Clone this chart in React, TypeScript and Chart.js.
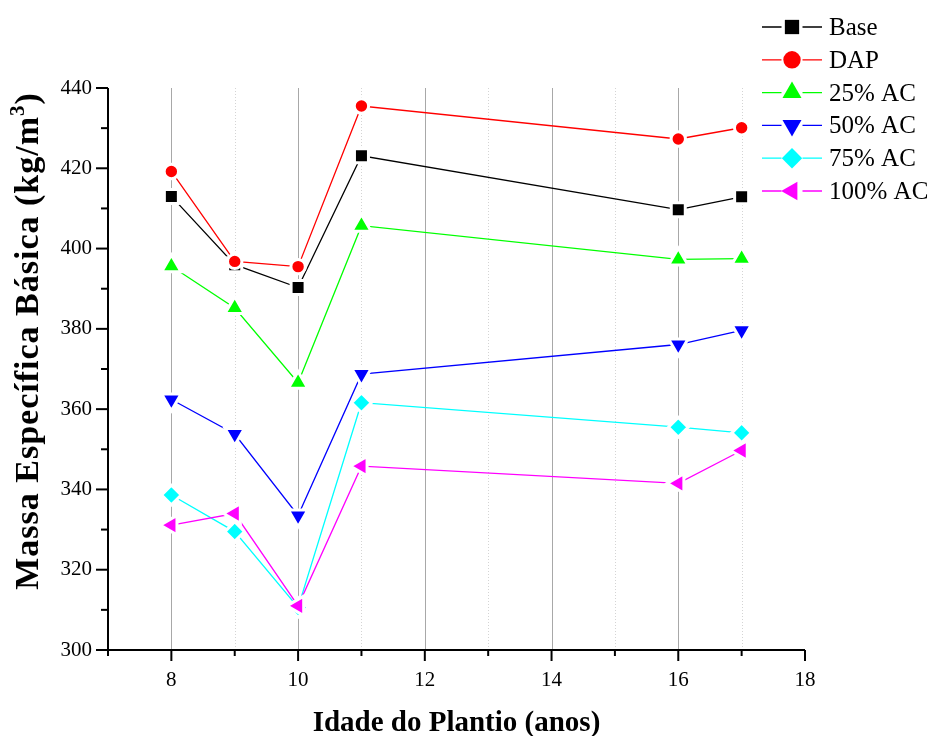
import React, { useEffect, useRef } from 'react';
import { Chart, registerables } from 'chart.js';
import { drawPoint } from 'chart.js/helpers';
Chart.register(...registerables);

// ---- data ----
const AGES = [8, 9, 10, 11, 16, 17];
const BASE = [413.0, 396.0, 390.3, 423.1, 409.7, 412.9];
const DAP = [419.2, 396.8, 395.5, 435.5, 427.3, 430.1];
const AC25 = [395.6, 385.2, 366.6, 405.7, 397.3, 397.5];
const AC50 = [362.4, 353.8, 333.5, 368.7, 376.1, 379.6];
const AC75 = [338.6, 329.5, 310.6, 361.6, 355.5, 354.1];
const AC100 = [331.1, 334.0, 311.0, 345.8, 341.5, 349.7];
const SERIES_NAMES = ['Base', 'DAP', '25% AC', '50% AC', '75% AC', '100% AC'];
const SERIES_VALUES = [BASE, DAP, AC25, AC50, AC75, AC100];
const X_TICKS = [8, 10, 12, 14, 16, 18];
const X_MINOR = [7, 9, 11, 13, 15, 17];
const Y_TICKS = [300, 320, 340, 360, 380, 400, 420, 440];
const Y_MINOR = [310, 330, 350, 370, 390, 410, 430];
const X_TITLE = 'Idade do Plantio (anos)';
const Y_TITLE_MAIN = 'Massa Específica Básica (kg/m';
const Y_TITLE_SUP = '3';
const Y_TITLE_END = ')';

// ---- styles ----
const STYLES = [
  { color: '#000000', style: 'rect', rot: 0, r: 9.9, lr: 10.1 },
  { color: '#ff0000', style: 'circle', rot: 0, r: 7.2, lr: 8.7 },
  { color: '#00ff00', style: 'triangle', rot: 0, r: 11.2, lr: 11 },
  { color: '#0000ff', style: 'triangle', rot: 180, r: 11.2, lr: 11 },
  { color: '#00ffff', style: 'rectRot', rot: 0, r: 9.8, lr: 10.2 },
  { color: '#ff00ff', style: 'triangle', rot: -90, r: 11.2, lr: 10.8 },
];
const FONT = '"Liberation Serif", "Times New Roman", serif';

const decorPlugin = {
  id: 'decor',
  beforeDatasetsDraw(chart: any) {
    const ctx = chart.ctx;
    const x = chart.scales.x;
    const area = chart.chartArea;
    ctx.save();
    for (let v = 8; v <= 17; v++) {
      const px = Math.round(x.getPixelForValue(v)) + 0.5;
      ctx.beginPath();
      if (v % 2 === 0) {
        ctx.strokeStyle = '#a8a8a8';
        ctx.setLineDash([]);
      } else {
        ctx.strokeStyle = '#d4d4d4';
        ctx.setLineDash([1, 2]);
      }
      ctx.lineWidth = 1;
      ctx.moveTo(px, area.top);
      ctx.lineTo(px, area.bottom);
      ctx.stroke();
    }
    ctx.restore();
  },
  afterDatasetsDraw(chart: any) {
    const ctx = chart.ctx;
    const xs = chart.scales.x;
    const ys = chart.scales.y;
    const area = chart.chartArea;
    ctx.save();
    ctx.strokeStyle = '#000';
    ctx.lineWidth = 2;
    ctx.setLineDash([]);
    ctx.beginPath();
    ctx.moveTo(area.left, area.top);
    ctx.lineTo(area.left, area.bottom);
    ctx.lineTo(area.right, area.bottom);
    ctx.stroke();
    Y_TICKS.forEach((v) => {
      const py = ys.getPixelForValue(v);
      ctx.beginPath();
      ctx.moveTo(area.left - 12, py);
      ctx.lineTo(area.left, py);
      ctx.stroke();
    });
    Y_MINOR.forEach((v) => {
      const py = ys.getPixelForValue(v);
      ctx.beginPath();
      ctx.moveTo(area.left - 7, py);
      ctx.lineTo(area.left, py);
      ctx.stroke();
    });
    X_TICKS.forEach((v) => {
      const px = xs.getPixelForValue(v);
      ctx.beginPath();
      ctx.moveTo(px, area.bottom);
      ctx.lineTo(px, area.bottom + 11);
      ctx.stroke();
    });
    X_MINOR.forEach((v) => {
      const px = xs.getPixelForValue(v);
      ctx.beginPath();
      ctx.moveTo(px, area.bottom);
      ctx.lineTo(px, area.bottom + 6);
      ctx.stroke();
    });
    ctx.restore();
  },
  afterDraw(chart: any) {
    const ctx = chart.ctx;
    const area = chart.chartArea;
    ctx.save();
    ctx.fillStyle = '#000';
    ctx.font = `bold 29px ${FONT}`;
    ctx.textAlign = 'center';
    ctx.textBaseline = 'alphabetic';
    ctx.fillText(X_TITLE, (area.left + area.right) / 2, 731);
    // y title (rotated, with superscript)
    ctx.save();
    ctx.translate(38, 341);
    ctx.rotate(-Math.PI / 2);
    ctx.textAlign = 'left';
    try { (ctx as any).letterSpacing = '1px'; } catch (e) {}
    ctx.font = `bold 34px ${FONT}`;
    const w1 = ctx.measureText(Y_TITLE_MAIN).width;
    const w4 = ctx.measureText(Y_TITLE_END).width;
    ctx.font = `bold 21px ${FONT}`;
    const w3 = ctx.measureText(Y_TITLE_SUP).width;
    const total = w1 + w3 + w4;
    const sx = -total / 2;
    ctx.font = `bold 34px ${FONT}`;
    ctx.fillText(Y_TITLE_MAIN, sx, 0);
    ctx.font = `bold 21px ${FONT}`;
    ctx.fillText(Y_TITLE_SUP, sx + w1, -14);
    ctx.font = `bold 34px ${FONT}`;
    ctx.fillText(Y_TITLE_END, sx + w1 + w3, 0);
    try { (ctx as any).letterSpacing = '0px'; } catch (e) {}
    ctx.restore();
    // legend
    const lx0 = 762, lx1 = 822, mx = 792, gap = 10.5;
    SERIES_NAMES.forEach((name, i) => {
      const st = STYLES[i];
      const cy = 27 + i * 32.8;
      ctx.strokeStyle = st.color;
      ctx.lineWidth = 1.3;
      ctx.beginPath();
      ctx.moveTo(lx0, cy);
      ctx.lineTo(mx - gap, cy);
      ctx.moveTo(mx + gap, cy);
      ctx.lineTo(lx1, cy);
      ctx.stroke();
      ctx.fillStyle = st.color;
      drawPoint(ctx, { pointStyle: st.style, rotation: st.rot, radius: st.lr, borderWidth: 0 } as any, mx, cy);
      ctx.fillStyle = '#000';
      ctx.font = `25px ${FONT}`;
      ctx.textAlign = 'left';
      ctx.textBaseline = 'alphabetic';
      ctx.fillText(name, 829, cy + 8);
    });
    ctx.restore();
  },
};

export default function App() {
  const ref = useRef<HTMLCanvasElement | null>(null);
  useEffect(() => {
    if (!ref.current) return;
    const datasets = SERIES_NAMES.map((name, i) => ({
      label: name,
      data: AGES.map((a, j) => ({ x: a, y: SERIES_VALUES[i][j] })),
      borderColor: STYLES[i].color,
      backgroundColor: STYLES[i].color,
      borderWidth: 1.3,
      pointStyle: STYLES[i].style,
      pointRotation: STYLES[i].rot,
      pointRadius: STYLES[i].r,
      pointBorderWidth: 3,
      pointBorderColor: '#ffffff',
      pointBackgroundColor: STYLES[i].color,
      tension: 0,
      order: SERIES_NAMES.length - i,
    }));
    const chart = new Chart(ref.current, {
      type: 'line',
      data: { datasets },
      options: {
        animation: false,
        responsive: false,
        maintainAspectRatio: false,
        layout: { padding: { top: 88, right: 131, left: 0, bottom: 0 } },
        plugins: { legend: { display: false }, tooltip: { enabled: false }, title: { display: false } },
        scales: {
          x: {
            type: 'linear',
            min: 7,
            max: 18,
            grid: { display: false },
            border: { display: false },
            afterBuildTicks: (s: any) => { s.ticks = X_TICKS.map((v) => ({ value: v })); },
            afterFit: (s: any) => { s.height = 86; },
            ticks: {
              color: '#000',
              font: { family: FONT, size: 21 },
              padding: 10,
              maxRotation: 0,
              autoSkip: false,
              callback: (v: any) => String(v),
            },
          },
          y: {
            type: 'linear',
            min: 300,
            max: 440,
            grid: { display: false },
            border: { display: false },
            afterBuildTicks: (s: any) => { s.ticks = Y_TICKS.map((v) => ({ value: v })); },
            afterFit: (s: any) => { s.width = 108; },
            ticks: {
              color: '#000',
              font: { family: FONT, size: 21 },
              padding: 8,
              autoSkip: false,
              callback: (v: any) => String(v),
            },
          },
        },
      } as any,
      plugins: [decorPlugin],
    });
    return () => chart.destroy();
  }, []);
  return (
    <div style={{ position: 'fixed', left: 0, top: 0, width: 936, height: 736, background: '#fff' }}>
      <canvas ref={ref} width={936} height={736} />
    </div>
  );
}
